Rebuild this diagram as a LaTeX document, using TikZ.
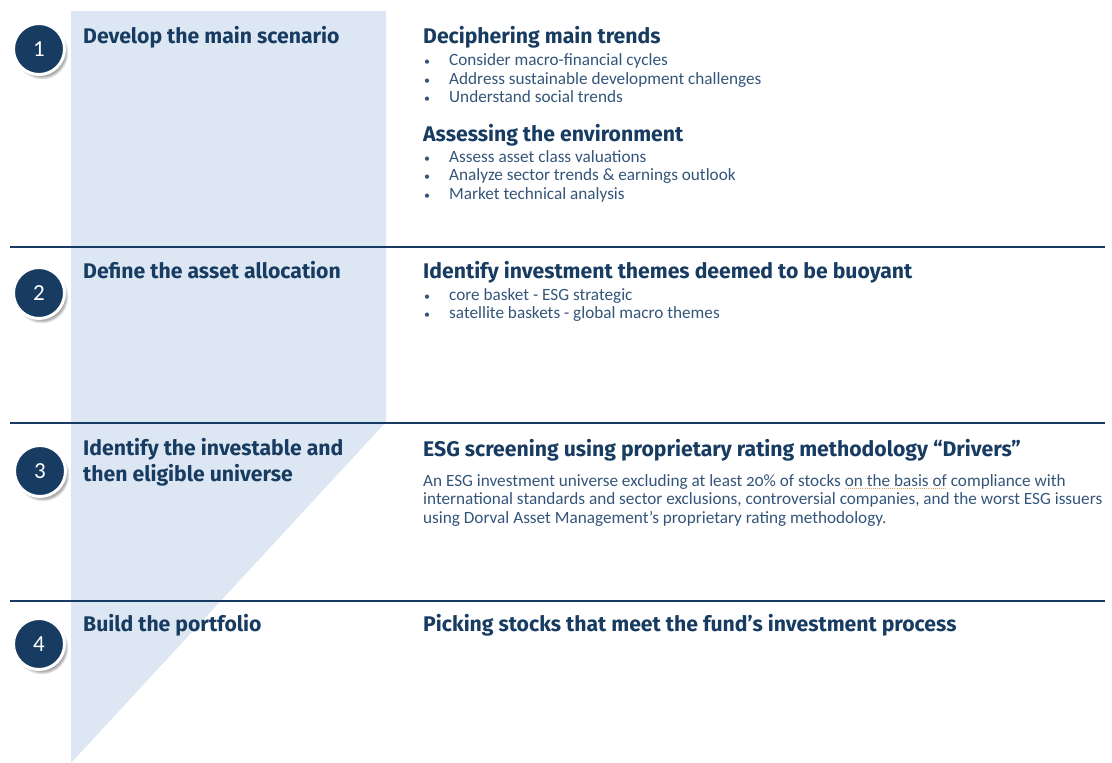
\documentclass[tikz,border=0pt]{standalone}
\usepackage{fontspec}
\setmainfont{Carlito}
\newfontfamily\headfont{Fira Sans}
\usetikzlibrary{positioning, shadows}

\definecolor{navy}{HTML}{173B61}
\definecolor{bodyblue}{HTML}{34557A}
\definecolor{band}{HTML}{DCE7F3}
\definecolor{dotorange}{HTML}{D9A35A}

% dotted grammar-check underline, bullet with hanging gap, top-aligned line stack
\newcommand\gramul[1]{\setbox0\hbox{#1}\rlap{\lower2.8pt\hbox to\wd0{\color{dotorange}\xleaders\hbox{\kern0.6pt\rule{0.9pt}{0.9pt}\kern0.6pt}\hfill}}#1}
\newcommand\bul{\makebox[26pt][l]{\kern1pt{\fontsize{12}{12}\selectfont\textbullet}}}
\newcommand\stack[1]{\begin{tabular}[t]{@{}l@{}}#1\end{tabular}}

\begin{document}
\begin{tikzpicture}[x=1pt, y=-1pt,
    node distance=5pt,
    title/.style={anchor=base west, inner sep=0pt, text=navy,
        font=\headfont\bfseries\fontsize{21.2}{25.5}\selectfont},
    body/.style={anchor=base west, inner sep=0pt, text=bodyblue,
        font=\fontsize{17.2}{18.6}\selectfont},
    num/.style={circle, fill=navy, draw=white, line width=3pt, minimum size=51pt,
        inner sep=0pt, text=white, font=\fontsize{23}{23}\selectfont,
        circular drop shadow={shadow xshift=2.5pt, shadow yshift=-3.5pt, shadow scale=1.05, opacity=0.7}},
    rule/.style={draw=navy, line width=2.4pt}]
\useasboundingbox (0,0) rectangle (1112,763);
% pale band behind the step titles
\fill[band] (71,11) -- (386,11) -- (386,422) -- (71,763) -- cycle;
% separators between the steps
\coordinate (r1w) at (10,247); \coordinate (r1e) at (1105,247);
\coordinate (r2w) at (10,423); \coordinate (r2e) at (1105,423);
\coordinate (r3w) at (10,601); \coordinate (r3e) at (1105,601);
\draw[rule] (r1w) -- (r1e);
\draw[rule] (r2w) -- (r2e);
\draw[rule] (r3w) -- (r3e);
% step numbers
\node[num] (n1) at (39,49) {1};
\node[num] (n2) at (39,293) {2};
\node[num] (n3) at (40,471) {3};
\node[num] (n4) at (39,644) {4};
% step titles
\node[title] (s1) at (83,43.5) {Develop the main scenario};
\node[title] (s2) at (83,278) {Define the asset allocation};
\node[title] (s3) at (83,455.5) {\stack{Identify the investable and\\then eligible universe}};
\node[title] (s4) at (83,631) {Build the portfolio};
% step 1 details
\node[title] (h1a) at (423,43.5) {Deciphering main trends};
\node[body, below=22pt of h1a.base west, anchor=base west] (b1a)
    {\stack{\bul Consider macro-financial cycles\\\bul Address sustainable development challenges\\\bul Understand social trends}};
\node[title] (h1b) at (423,141) {Assessing the environment};
\node[body, below=21pt of h1b.base west, anchor=base west] (b1b)
    {\stack{\bul Assess asset class valuations\\\bul Analyze sector trends \& earnings outlook\\\bul Market technical analysis}};
% step 2 details
\node[title] (h2) at (423,278) {Identify investment themes deemed to be buoyant};
\node[body, below=22pt of h2.base west, anchor=base west] (b2)
    {\stack{\bul core basket - ESG strategic\\\bul satellite baskets - global macro themes}};
% step 3 details
\node[title] (h3) at (423,456) {ESG screening using proprietary rating methodology “Drivers”};
\node[body, below=30pt of h3.base west, anchor=base west] (p3)
    {\stack{An ESG investment universe excluding at least {\addfontfeatures{Numbers=OldStyle}20}\% of stocks \gramul{on the basis of} compliance with\\
     international standards and sector exclusions, controversial companies, and the worst ESG issuers\\
     using Dorval Asset Management’s proprietary rating methodology.}};
% step 4 details
\node[title] (h4) at (423,631) {Picking stocks that meet the fund’s investment process};
\end{tikzpicture}
\end{document}
